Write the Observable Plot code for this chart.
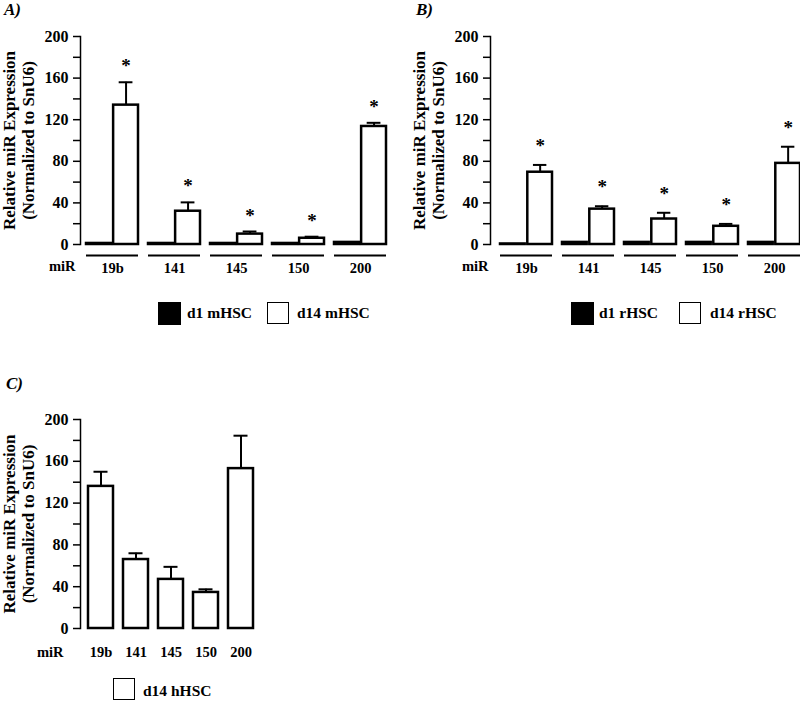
<!DOCTYPE html>
<html>
<head>
<meta charset="utf-8">
<script src="https://cdn.jsdelivr.net/npm/d3@7"></script>
<script src="https://cdn.jsdelivr.net/npm/@observablehq/plot@0.6"></script>
<style>
  body { margin: 0; background: white; }
  #root { position: relative; width: 800px; height: 701px; background: white; overflow: hidden;
          font-family: 'Liberation Serif', 'Times New Roman', serif; font-weight: bold; color: black; }
  .abs { position: absolute; white-space: nowrap; }
  .plab { font-style: italic; font-size: 17px; line-height: 17px; }
  .leg { font-size: 15.5px; line-height: 15.5px; }
  .sw { position: absolute; box-sizing: border-box; border: 1.5px solid black; }
</style>
</head>
<body>
<div id="root"></div>
<script>
// ---------- data ----------
const mirs = ["19b", "141", "145", "150", "200"];

const aD1 = [1, 1, 1, 1, 2];
const aD14 = [134, 32, 10, 6, 113.5];
const aD14Err = [22, 8.5, 2.5, 1.5, 3.5];

const bD1 = [0.5, 2, 2, 2, 2];
const bD14 = [69.5, 34, 24.5, 17.5, 78];
const bD14Err = [7, 2.8, 6, 2.3, 16];

const cD14 = [136, 66, 47, 34.5, 153];
const cD14Err = [14, 6, 12, 3, 31.5];

const yTicks = [0, 40, 80, 120, 160, 200];
const yMinor = [20, 60, 100, 140, 180];

const seriesA = ["d1 mHSC", "d14 mHSC"];
const seriesB = ["d1 rHSC", "d14 rHSC"];
const seriesC = ["d14 hHSC"];
const seriesFill = ["black", "white"];

const yTitle1 = "Relative miR Expression";
const yTitle2 = "(Normalized to SnU6)";
const xTitle = "miR";
const panelLabels = ["A)", "B)", "C)"];

// ---------- helpers ----------
const root = document.getElementById("root");

function panel(cfg) {
  const {d1, d14, err, left, top, width = 400, height = 280, marginLeft, marginRight,
         marginTop = 36, marginBottom, pi, gap, underline, star, starDy, miRdx, miRdy} = cfg;
  const rows = mirs.map((m, i) => ({mir: m, d1: d1 ? d1[i] : 0, d14: d14[i], err: err[i]}));
  const n = mirs.length;
  const R = width - marginLeft - marginRight;
  const s = (R - gap) / (n - pi);
  const po = gap / (2 * s);
  const bw = s * (1 - pi);
  const grouped = !!d1;
  const c = grouped ? 0.75 * bw + 0.5 : bw / 2; // center of the d14 bar from band start
  const off = c - bw / 2;
  const capHalf = 7;

  const marks = [];
  if (grouped) {
    marks.push(Plot.barY(rows, {x: "mir", y: "d1", fill: seriesFill[0], stroke: "black", strokeWidth: 2.5, insetRight: bw / 2 + 1}));
  }
  marks.push(Plot.barY(rows, {x: "mir", y: "d14", fill: seriesFill[1], stroke: "black", strokeWidth: 2.5, insetLeft: grouped ? bw / 2 + 1 : 0}));
  marks.push(Plot.ruleX(rows, {x: "mir", y1: "d14", y2: d => d.d14 + d.err, dx: off, stroke: "black", strokeWidth: 2}));
  marks.push(Plot.tickY(rows, {x: "mir", y: d => d.d14 + d.err, insetLeft: c - capHalf, insetRight: bw - c - capHalf, stroke: "black", strokeWidth: 2}));
  if (star) {
    marks.push(Plot.text(rows, {x: "mir", y: d => d.d14 + d.err, text: () => "*", dx: off, dy: starDy, fontSize: 19}));
  }
  if (underline) {
    marks.push(Plot.tickY(rows, {x: "mir", y: 0, dy: 11, stroke: "black", strokeWidth: 2}));
  }
  marks.push(Plot.axisX({tickSize: 0, tickPadding: 18.5, fontSize: 14.5, label: null}));
  marks.push(Plot.axisY({ticks: yTicks, tickSize: 7, tickPadding: 5, fontSize: 16, strokeWidth: 1.5, label: null}));
  marks.push(Plot.axisY({ticks: yMinor, tickSize: 7, tickFormat: () => "", strokeWidth: 1.5, label: null}));
  marks.push(Plot.frame({anchor: "left", stroke: "black", strokeWidth: 1.5}));
  marks.push(Plot.text([yTitle1], {text: d => d, frameAnchor: "left", textAnchor: "middle", rotate: -90, dx: -71, fontSize: 17}));
  marks.push(Plot.text([yTitle2], {text: d => d, frameAnchor: "left", textAnchor: "middle", rotate: -90, dx: -52, fontSize: 17}));
  marks.push(Plot.text([xTitle], {text: d => d, frameAnchor: "bottom-left", textAnchor: "end", dx: miRdx, dy: miRdy, fontSize: 14.5}));

  const chart = Plot.plot({
    width, height, marginLeft, marginRight, marginTop, marginBottom,
    style: {fontFamily: "'Liberation Serif', 'Times New Roman', serif", fontWeight: "bold", fontSize: "16px",
            color: "black", background: "transparent", overflow: "visible"},
    x: {domain: mirs, paddingInner: pi, paddingOuter: po, align: 1},
    y: {domain: [0, 200]},
    marks
  });
  chart.style.position = "absolute";
  chart.style.left = left + "px";
  chart.style.top = top + "px";
  root.appendChild(chart);
}

function addText(txt, cls, x, y) {
  const d = document.createElement("div");
  d.className = "abs " + cls;
  d.textContent = txt;
  d.style.left = x + "px";
  d.style.top = y + "px";
  root.appendChild(d);
}
function addSwatch(fill, x, y, size) {
  const d = document.createElement("div");
  d.className = "sw";
  d.style.left = x + "px";
  d.style.top = y + "px";
  d.style.width = size + "px";
  d.style.height = size + "px";
  d.style.background = fill;
  root.appendChild(d);
}

// ---------- panels ----------
panel({d1: aD1, d14: aD14, err: aD14Err, left: 0, top: 0, marginLeft: 80, marginRight: 14, marginBottom: 36,
       pi: 0.16, gap: 5, underline: true, star: true, starDy: -16, miRdx: -5, miRdy: 26.5});
panel({d1: bD1, d14: bD14, err: bD14Err, left: 400, top: 0, marginLeft: 90, marginRight: 0, marginBottom: 36,
       pi: 0.16, gap: 7, underline: true, star: true, starDy: -19, miRdx: -2, miRdy: 26.5});
panel({d1: null, d14: cD14, err: cD14Err, left: 0, top: 383, marginLeft: 80, marginRight: 147, marginBottom: 35,
       pi: 0.286, gap: 8, underline: false, star: false, starDy: 0, miRdx: -17, miRdy: 28});

// panel labels
addText(panelLabels[0], "plab", 4, 1);
addText(panelLabels[1], "plab", 416, 1);
addText(panelLabels[2], "plab", 6, 375);

// legends
addSwatch(seriesFill[0], 158, 302, 23);
addText(seriesA[0], "leg", 187, 304.5);
addSwatch(seriesFill[1], 267, 302, 22);
addText(seriesA[1], "leg", 297, 304.5);

addSwatch(seriesFill[0], 571, 302, 23);
addText(seriesB[0], "leg", 599, 304.5);
addSwatch(seriesFill[1], 679, 302, 22);
addText(seriesB[1], "leg", 710, 304.5);

addSwatch(seriesFill[1], 113, 678, 22);
addText(seriesC[0], "leg", 143, 682.5);
</script>
</body>
</html>
